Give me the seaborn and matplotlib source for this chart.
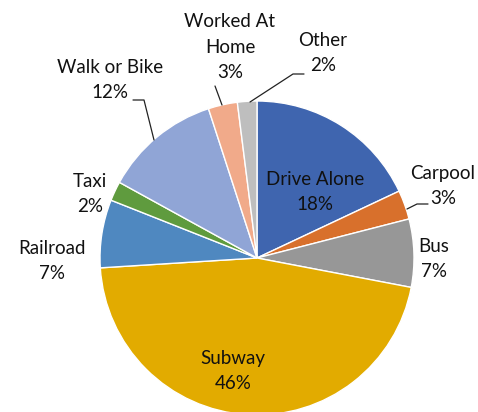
import matplotlib
matplotlib.use('Agg')
import matplotlib.pyplot as plt
import seaborn as sns

# Data
modes = ['Drive Alone', 'Carpool', 'Bus', 'Subway', 'Railroad', 'Taxi',
         'Walk or Bike', 'Worked At\nHome', 'Other']
shares = [18, 3, 7, 46, 7, 2, 12, 3, 2]
colors = ['#3F65AF', '#D8702C', '#979797', '#E2AB00', '#4F88C0',
          '#5F9B3E', '#90A5D6', '#F1AA8A', '#BEBEBE']

sns.set_theme(style='white')
plt.rcParams['font.family'] = ['Lato', 'DejaVu Sans']

# figure in pixel units (y measured from bottom)
W, H = 478, 412
fig = plt.figure(figsize=(W / 100, H / 100), dpi=100)
ax = fig.add_axes([0, 0, 1, 1])

cx, cy, r = 257, H - 258, 157
ax.pie(shares, colors=colors, startangle=90, counterclock=False,
       center=(cx, cy), radius=r,
       wedgeprops=dict(edgecolor='white', linewidth=1.0), frame=True)
ax.set_xlim(0, W)
ax.set_ylim(0, H)
ax.set_aspect('equal')
ax.axis('off')

# label centres in image pixels (x, y from top)
label_pos = [(315, 192), (443, 186), (434, 259), (233, 371), (52, 261),
             (90, 194), (110, 80), (230, 47), (323, 53)]
for name, val, (lx, ly) in zip(modes, shares, label_pos):
    ax.text(lx, H - ly, f'{name}\n{val}%', ha='center', va='center',
            fontsize=13.5, color='#111111', linespacing=1.6)

# leader lines (image pixels)
leaders = [
    [(407, 209), (417, 204), (428, 204)],   # Carpool
    [(133, 100), (144, 100), (154, 140)],   # Walk or Bike
    [(215, 86), (222, 105)],                # Worked At Home
    [(304, 74), (293, 74), (250, 102)],     # Other
]
for pts in leaders:
    xs = [p[0] for p in pts]
    ys = [H - p[1] for p in pts]
    ax.plot(xs, ys, color='#222222', lw=0.9)

fig.savefig('out.png', dpi=100)
